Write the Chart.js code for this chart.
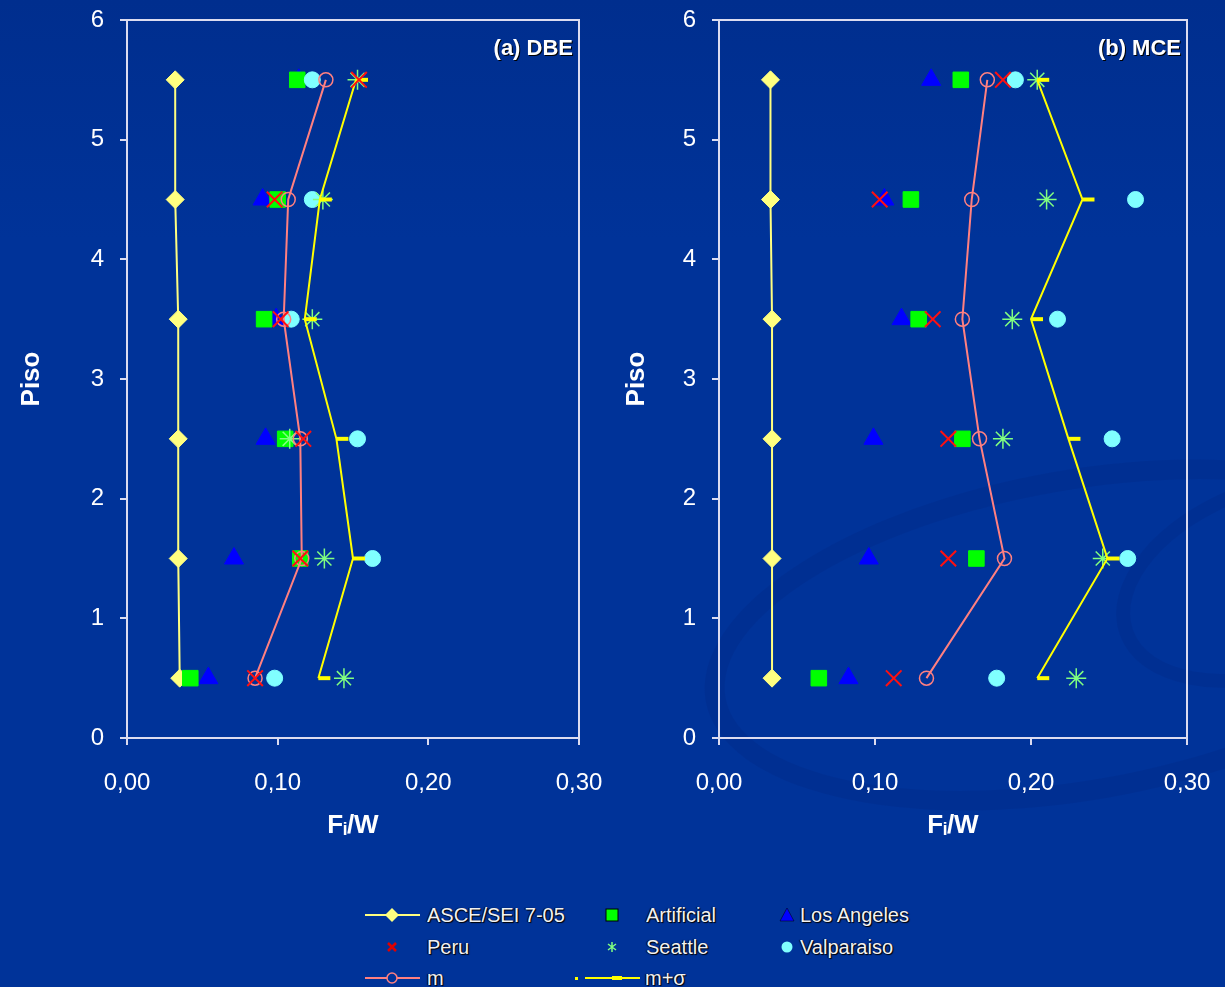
<!DOCTYPE html>
<html>
<head>
<meta charset="utf-8">
<script src="https://cdn.jsdelivr.net/npm/chart.js@4.4.1/dist/chart.umd.min.js"></script>
<style>
  html, body { margin: 0; padding: 0; }
  body {
    width: 1225px; height: 987px; overflow: hidden; position: relative;
    background: linear-gradient(#002e8e 0px, #003399 240px, #003399 100%);
    font-family: "Liberation Sans", Arial, sans-serif;
  }
  .swirl { position: absolute; border-radius: 50%; border-style: solid; border-color: rgba(0, 40, 128, 0.28); }
  canvas { position: absolute; top: 0; }
  #cDBE { left: 0; }
  #cMCE { left: 605px; }
  .lg { position: absolute; color: #f2f2f2; font-size: 20px; line-height: 24px; white-space: nowrap;
        text-shadow: 1px 1px 1px #000, -1px 0 1px #000; }
  .sym { position: absolute; }
</style>
</head>
<body>
<div class="swirl" style="left:700px;top:470px;width:720px;height:290px;border-width:20px;transform:rotate(-10deg);"></div>
<div class="swirl" style="left:1110px;top:480px;width:300px;height:170px;border-width:14px;transform:rotate(-20deg);"></div>
<canvas id="cDBE" width="615" height="850"></canvas>
<canvas id="cMCE" width="620" height="850"></canvas>
<div id="legend"></div>
<script>
// shared axes
const floors = [0.5, 1.5, 2.5, 3.5, 4.5, 5.5];
const xTicks = [0, 0.1, 0.2, 0.3];
const yTicks = [0, 1, 2, 3, 4, 5, 6];

// (a) DBE  - Fi/W per floor (0.5 .. 5.5)
const dbeAsce       = [0.035, 0.034, 0.034, 0.034, 0.032, 0.032];
const dbeArtificial = [0.042, 0.115, 0.105, 0.091, 0.100, 0.113];
const dbeLosAngeles = [0.054, 0.071, 0.092, 0.099, 0.090, 0.114];
const dbePeru       = [0.085, 0.115, 0.117, 0.102, 0.098, 0.154];
const dbeSeattle    = [0.144, 0.131, 0.108, 0.123, 0.130, 0.153];
const dbeValparaiso = [0.098, 0.163, 0.153, 0.109, 0.123, 0.123];
const dbeMean       = [0.085, 0.116, 0.115, 0.104, 0.107, 0.132];
const dbeMeanSigma  = [0.127, 0.150, 0.139, 0.118, 0.128, 0.152];

// (b) MCE
const mceAsce       = [0.034, 0.034, 0.034, 0.034, 0.033, 0.033];
const mceArtificial = [0.064, 0.165, 0.156, 0.128, 0.123, 0.155];
const mceLosAngeles = [0.083, 0.096, 0.099, 0.117, 0.106, 0.136];
const mcePeru       = [0.112, 0.147, 0.147, 0.137, 0.103, 0.182];
const mceSeattle    = [0.229, 0.246, 0.182, 0.188, 0.210, 0.204];
const mceValparaiso = [0.178, 0.262, 0.252, 0.217, 0.267, 0.190];
const mceMean       = [0.133, 0.183, 0.167, 0.156, 0.162, 0.172];
const mceMeanSigma  = [0.204, 0.249, 0.224, 0.200, 0.233, 0.204];

const seriesNames = ['ASCE/SEI 7-05', 'Artificial', 'Los Angeles', 'Peru', 'Seattle', 'Valparaiso', 'm', 'm+σ'];

const axisColor = '#dcdcf0';
Chart.defaults.font.family = '"Liberation Sans", Arial, sans-serif';
Chart.defaults.color = '#ffffff';

const pts = vals => vals.map((v, i) => ({ x: v, y: floors[i] }));

// frame (top + right side of plot area) and panel label
const framePlugin = {
  id: 'frame',
  beforeDatasetsDraw(chart) {
    const { ctx, chartArea: a } = chart;
    ctx.save();
    ctx.strokeStyle = axisColor;
    ctx.lineWidth = 2;
    ctx.beginPath();
    ctx.moveTo(a.left, a.top);
    ctx.lineTo(a.right, a.top);
    ctx.lineTo(a.right, a.bottom);
    ctx.stroke();
    ctx.restore();
  },
  afterDraw(chart, args, opts) {
    const { ctx, chartArea: a } = chart;
    ctx.save();
    ctx.font = 'bold 22px "Liberation Sans", Arial, sans-serif';
    ctx.textAlign = 'right';
    ctx.textBaseline = 'middle';
    ctx.fillStyle = '#000';
    ctx.fillText(opts.label, a.right - 5, a.top + 30);
    ctx.fillStyle = '#fff';
    ctx.fillText(opts.label, a.right - 6, a.top + 29);
    ctx.restore();
  }
};

function makeChart(id, label, s, padRight) {
  const pt = (data, name, style, color, r, extra) => Object.assign({
    label: name, data: pts(data), showLine: false,
    pointStyle: style, pointRadius: r, pointHoverRadius: r,
    pointBackgroundColor: color, pointBorderColor: color, pointBorderWidth: 1
  }, extra || {});

  return new Chart(document.getElementById(id), {
    type: 'scatter',
    data: {
      datasets: [
        pt(s.peru, seriesNames[3], 'crossRot', '#ff1010', 11, { pointBorderWidth: 2 }),
        pt(s.mean, seriesNames[6], 'circle', '#ff8080', 7, {
          showLine: true, borderColor: '#ff8080', borderWidth: 2,
          pointBackgroundColor: 'rgba(0,0,0,0)', pointBorderWidth: 1.5
        }),
        pt(s.meanSigma, seriesNames[7], 'dash', '#ffff00', 12, {
          showLine: true, borderColor: '#ffff00', borderWidth: 2, pointBorderWidth: 4
        }),
        pt(s.seattle, seriesNames[4], 'star', '#80ff80', 10, { pointBorderWidth: 1.5 }),
        pt(s.valparaiso, seriesNames[5], 'circle', '#80ffff', 8),
        pt(s.artificial, seriesNames[1], 'rect', '#00ff00', 11),
        pt(s.losAngeles, seriesNames[2], 'triangle', '#0000ff', 11),
        pt(s.asce, seriesNames[0], 'rectRot', '#ffff80', 9, {
          showLine: true, borderColor: '#ffff80', borderWidth: 2
        })
      ]
    },
    options: {
      responsive: false,
      animation: false,
      layout: { padding: { top: 20, right: padRight, bottom: 0, left: 0 } },
      plugins: { legend: { display: false }, tooltip: { enabled: false }, frame: { label: label } },
      scales: {
        x: {
          type: 'linear', min: 0, max: 0.3,
          afterBuildTicks: sc => { sc.ticks = xTicks.map(v => ({ value: v })); },
          afterFit: sc => { sc.height = 112; sc.paddingLeft = 0; sc.paddingRight = 0; },
          ticks: {
            callback: v => v.toFixed(2).replace('.', ','),
            color: '#ffffff', font: { size: 24 }, padding: 24, maxRotation: 0
          },
          grid: { drawOnChartArea: false, drawTicks: true, tickLength: 7, color: axisColor, lineWidth: 2 },
          border: { color: axisColor, width: 2 },
          title: {
            display: true, text: 'Fᵢ/W', color: '#ffffff',
            font: { size: 26, weight: 'bold' }, padding: { top: 0, bottom: 9 }
          }
        },
        y: {
          type: 'linear', min: 0, max: 6,
          afterBuildTicks: sc => { sc.ticks = yTicks.map(v => ({ value: v })); },
          afterFit: sc => { sc.width = s.axisLeft; sc.paddingTop = 0; sc.paddingBottom = 0; },
          ticks: { color: '#ffffff', font: { size: 24 }, padding: 16 },
          grid: { drawOnChartArea: false, drawTicks: true, tickLength: 7, color: axisColor, lineWidth: 2 },
          border: { color: axisColor, width: 2 },
          title: {
            display: true, text: 'Piso', color: '#ffffff',
            font: { size: 26, weight: 'bold' }, padding: { top: 16, bottom: 0 }
          }
        }
      }
    },
    plugins: [framePlugin]
  });
}

makeChart('cDBE', '(a) DBE', {
  asce: dbeAsce, artificial: dbeArtificial, losAngeles: dbeLosAngeles, peru: dbePeru,
  seattle: dbeSeattle, valparaiso: dbeValparaiso, mean: dbeMean, meanSigma: dbeMeanSigma,
  axisLeft: 127
}, 36);

makeChart('cMCE', '(b) MCE', {
  asce: mceAsce, artificial: mceArtificial, losAngeles: mceLosAngeles, peru: mcePeru,
  seattle: mceSeattle, valparaiso: mceValparaiso, mean: mceMean, meanSigma: mceMeanSigma,
  axisLeft: 114
}, 38);

// legend (three columns, as in the original slide)
const legendSymbols = {
  'ASCE/SEI 7-05': '<line x1="0" y1="12" x2="55" y2="12" stroke="#ffff80" stroke-width="2"/><polygon points="27,5 34,12 27,19 20,12" fill="#ffff80"/>',
  'Artificial': '<rect x="21" y="6" width="12" height="12" fill="#00ff00" stroke="#000" stroke-width="1"/>',
  'Los Angeles': '<polygon points="27,5 34,18 20,18" fill="#0000ff" stroke="#000" stroke-width="0.5"/>',
  'Peru': '<path d="M23,8 L31,16 M31,8 L23,16" stroke="#e00000" stroke-width="2.5"/>',
  'Seattle': '<path d="M27,7 L27,17 M23,9 L31,15 M31,9 L23,15" stroke="#80ff80" stroke-width="1.5"/>',
  'Valparaiso': '<circle cx="27" cy="12" r="5.5" fill="#80ffff"/>',
  'm': '<line x1="0" y1="12" x2="55" y2="12" stroke="#ff8080" stroke-width="2"/><circle cx="27" cy="12" r="5" fill="#003399" stroke="#ff8080" stroke-width="1.5"/>',
  'm+σ': '<rect x="-10" y="11" width="3" height="3" fill="#ffff00"/><line x1="0" y1="12" x2="55" y2="12" stroke="#ffff00" stroke-width="2"/><rect x="27" y="10" width="10" height="4" fill="#ffff00"/>'
};
const legendSlots = [
  [365, 903], [585, 903], [760, 903],
  [365, 935], [585, 935], [760, 935],
  [365, 966], [585, 966]
];
const legendTextX = [427, 646, 800, 427, 646, 800, 427, 645];
const legendEl = document.getElementById('legend');
seriesNames.forEach((name, i) => {
  const [sx, sy] = legendSlots[i];
  const sym = document.createElement('div');
  sym.className = 'sym';
  sym.style.left = (sx - 12) + 'px';
  sym.style.top = sy + 'px';
  sym.innerHTML = '<svg width="70" height="24" viewBox="-12 0 70 24" overflow="visible">' + legendSymbols[name] + '</svg>';
  legendEl.appendChild(sym);
  const txt = document.createElement('div');
  txt.className = 'lg';
  txt.style.left = legendTextX[i] + 'px';
  txt.style.top = sy + 'px';
  txt.textContent = name;
  legendEl.appendChild(txt);
});
</script>
</body>
</html>
